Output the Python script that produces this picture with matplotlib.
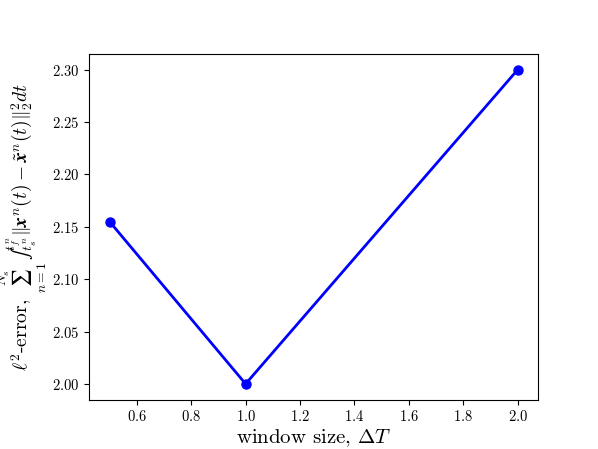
import matplotlib
matplotlib.use("Agg")
import matplotlib.pyplot as plt

plt.rcParams["mathtext.fontset"] = "cm"
plt.rcParams["font.family"] = "serif"
plt.rcParams["font.serif"] = ["cmr10"]
plt.rcParams["axes.formatter.use_mathtext"] = True

window_sizes = [0.5, 1.0, 2.0]
l2_errors = [2.155, 2.0, 2.30]

fig, ax = plt.subplots(figsize=(5.98, 4.49), dpi=100)
fig.subplots_adjust(left=0.149, right=0.9, top=0.88, bottom=0.11)

ax.plot(window_sizes, l2_errors, "o-", color="b", linewidth=2, markersize=6.5)

ax.set_yticks([2.00, 2.05, 2.10, 2.15, 2.20, 2.25, 2.30])
ax.tick_params(labelsize=10.5)

ax.set_xlabel(r"window size, $\Delta T$", fontsize=15, labelpad=2)
# small sum with limits above/below, as in the original figure
ax.set_ylabel("$\\ell^2$-error, $\\underset{n=1}{\\overset{N_s}{\u2211}}\\,"
              "\u222b_{t_s^n}^{t_f^n}"
              "\\|\\boldsymbol{x}^n(t)-\\tilde{\\boldsymbol{x}}^n(t)\\|_2^2dt$",
              fontsize=14, labelpad=2)

fig.savefig("out.png", dpi=100)
